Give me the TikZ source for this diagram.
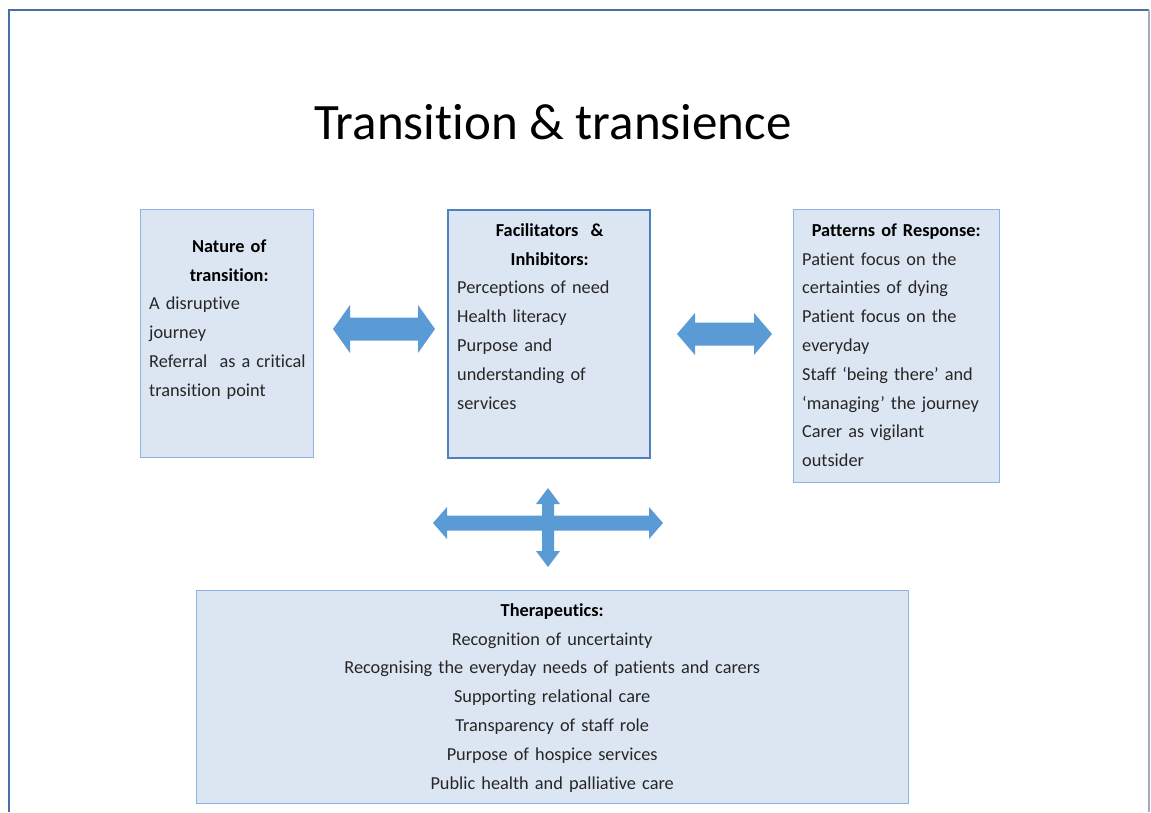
\documentclass[tikz,border=0pt]{standalone}
\usepackage{fontspec}
\setmainfont[Ligatures=CommonOff]{Carlito}
\usetikzlibrary{calc}
\definecolor{framecol}{HTML}{4A6FA5}
\definecolor{boxfill}{HTML}{DCE6F2}
\definecolor{boxline}{HTML}{8DB3E2}
\definecolor{boxdark}{HTML}{4F81BD}
\definecolor{arrowblue}{HTML}{5B9BD5}
\definecolor{bodytext}{HTML}{262626}
\newcommand{\hdarrow}[6]{\fill[arrowblue] (#1,#3) -- (#1+#6,#3-#4) -- (#1+#6,#3-#5) -- (#2-#6,#3-#5) -- (#2-#6,#3-#4) -- (#2,#3) -- (#2-#6,#3+#4) -- (#2-#6,#3+#5) -- (#1+#6,#3+#5) -- (#1+#6,#3+#4) -- cycle;}
\newcommand{\vdarrow}[6]{\fill[arrowblue] (#3,#1) -- (#3-#4,#1+#6) -- (#3-#5,#1+#6) -- (#3-#5,#2-#6) -- (#3-#4,#2-#6) -- (#3,#2) -- (#3+#4,#2-#6) -- (#3+#5,#2-#6) -- (#3+#5,#1+#6) -- (#3+#4,#1+#6) -- cycle;}
\tikzset{
  box/.style={draw=boxline, fill=boxfill, line width=1.2pt, anchor=north west, inner sep=0pt},
  darkbox/.style={box, draw=boxdark, line width=2pt},
  txt/.style={anchor=north west, inner sep=0pt, align=left, text=bodytext,
    font=\fontsize{18.3}{28.8}\selectfont},
}
\newcommand{\hd}[1]{{\centering\bfseries\color{black}#1\par}}
\begin{document}
\begin{tikzpicture}[x=1pt,y=-1pt]
\useasboundingbox (0,0) rectangle (1151,812);
\fill[white] (0,0) rectangle (1151,812);
% frame
\draw[framecol, line width=1.5pt] (9,812) -- (9,10) -- (1149,10);
\draw[framecol!50!gray!60, line width=1.2pt] (1149,10) -- (1149,812);
% title
\node[font=\fontsize{51}{60}\selectfont, inner sep=0pt] (title) at (553,122) {Transition \& transience};
% boxes
\node[box, minimum width=173pt, minimum height=248pt] (nat) at (140,209) {};
\node[darkbox, minimum width=202pt, minimum height=248pt] (fac) at (447,209) {};
\node[box, minimum width=206pt, minimum height=273pt] (pat) at (793,209) {};
\node[box, minimum width=712pt, minimum height=213pt] (ther) at (196,590) {};
% texts
\node[txt, text width=160pt] (natt) at ($(nat.north west)+(9,23)$) {\hd{\strut Nature of\\transition:}\raggedright A disruptive\\journey\\Referral\ \ as a critical\\transition point};
\node[txt, text width=185pt] (fact) at ($(fac.north west)+(10,7)$) {\hd{\strut Facilitators \ \&\\Inhibitors:}\raggedright Perceptions of need\\Health literacy\\Purpose and\\understanding of\\services};
\node[txt, text width=188pt] (patt) at ($(pat.north west)+(9,7)$) {\hd{\strut Patterns of Response:}\raggedright Patient focus on the\\certainties of dying\\Patient focus on the\\everyday\\Staff ‘being there’ and\\‘managing’ the journey\\Carer as vigilant\\outsider};
\node[txt, text width=712pt, align=center] (thert) at ($(ther.north west)+(0,6)$) {\hd{\strut Therapeutics:}\centering Recognition of uncertainty\\Recognising the everyday needs of patients and carers\\Supporting relational care\\Transparency of staff role\\Purpose of hospice services\\Public health and palliative care};
% arrows
\hdarrow{333}{435}{329}{24}{11.5}{17}
\hdarrow{677}{772}{334}{21}{11.5}{18}
\hdarrow{433}{663}{523}{16}{7.5}{14}
\vdarrow{488}{567}{548}{12}{6}{16}
\end{tikzpicture}
\end{document}
